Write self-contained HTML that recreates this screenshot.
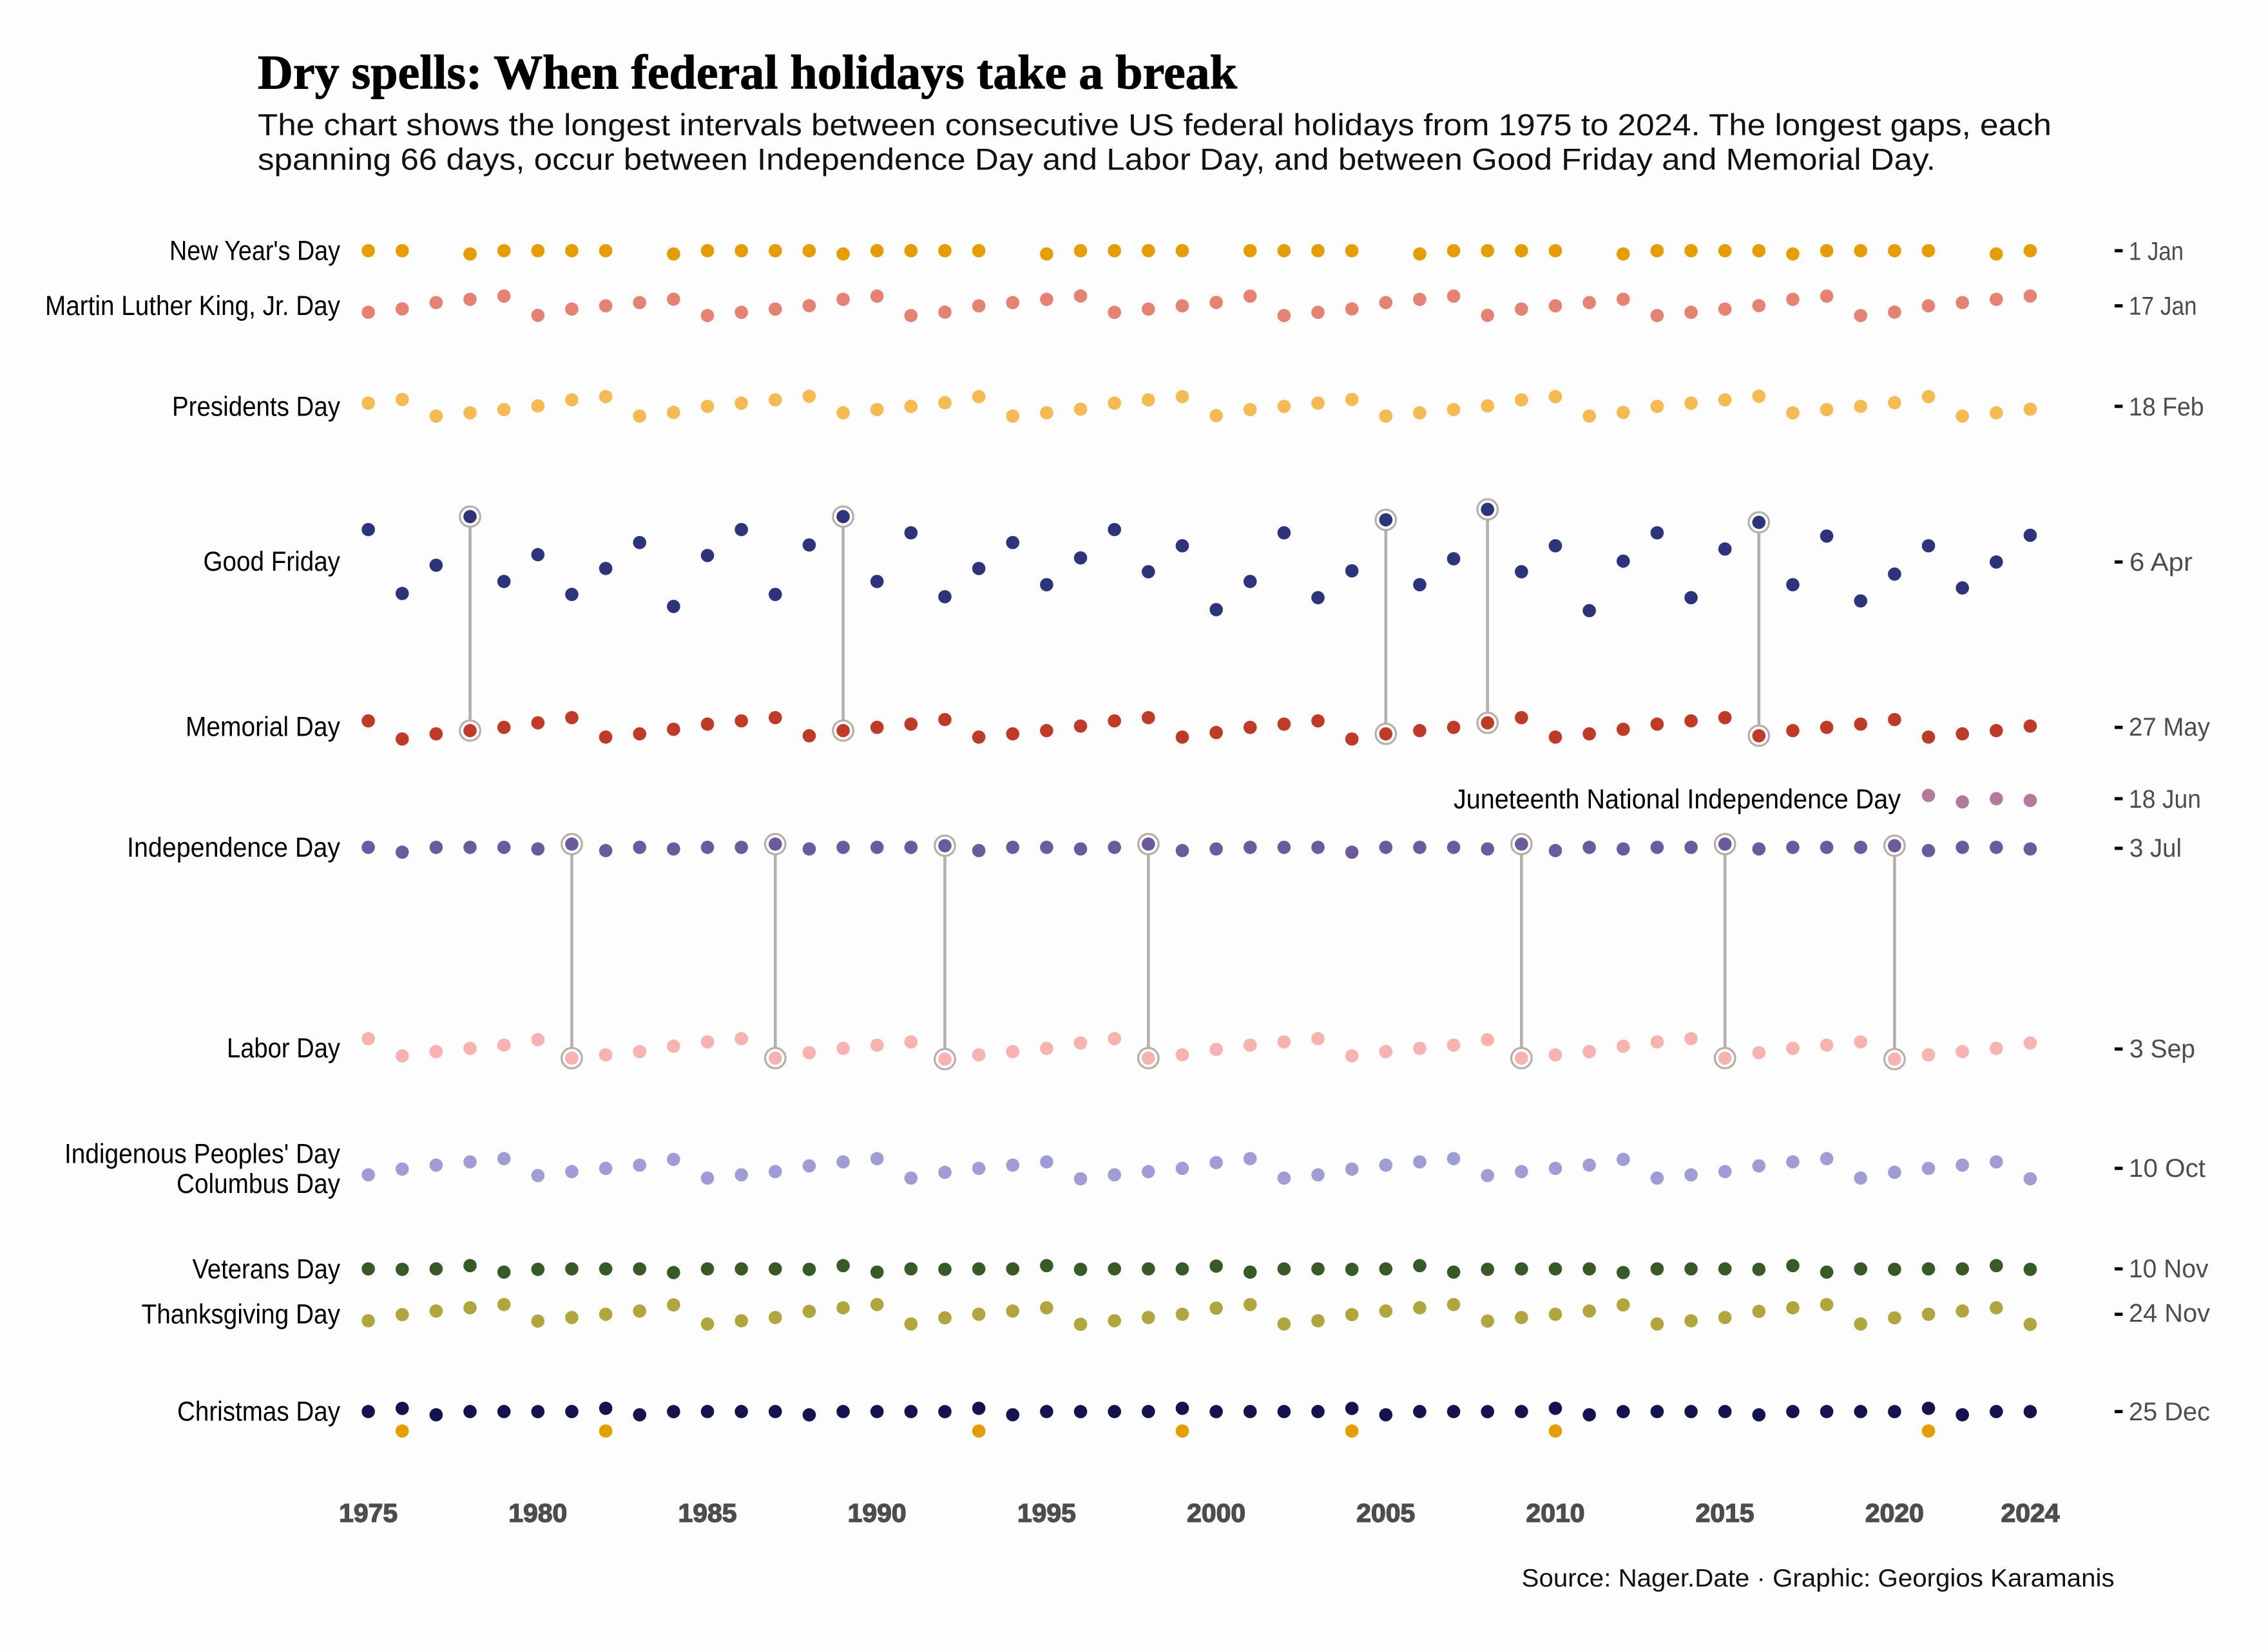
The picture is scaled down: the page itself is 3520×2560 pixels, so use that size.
<!DOCTYPE html>
<html lang="en">
<head>
<meta charset="utf-8">
<title>Dry spells: When federal holidays take a break</title>
<style>
html,body{margin:0;padding:0;background:#fdfdfd;}
svg{display:block;}
text{font-family:"Liberation Sans",sans-serif;}
.title{font-family:"Liberation Serif",serif;font-weight:700;font-size:75px;fill:#000;stroke:#000;stroke-width:1;}
.sub{font-size:47px;fill:#111;}
.lab{font-size:42.5px;fill:#000;}
.date{font-size:40px;fill:#4d4d4d;}
.year{font-size:40px;font-weight:700;fill:#4d4d4d;stroke:#4d4d4d;stroke-width:1.4;text-anchor:middle;}
.src{font-size:39px;fill:#111;}
</style>
</head>
<body>
<svg id="chart" xmlns="http://www.w3.org/2000/svg" width="3520" height="2560" viewBox="0 0 3520 2560">
<rect width="3520" height="2560" fill="#fdfdfd"/>
<text class="title" x="400" y="137.6" textLength="1520" lengthAdjust="spacingAndGlyphs">Dry spells: When federal holidays take a break</text>
<text class="sub" x="400" y="210" textLength="2784" lengthAdjust="spacingAndGlyphs">The chart shows the longest intervals between consecutive US federal holidays from 1975 to 2024. The longest gaps, each</text>
<text class="sub" x="400" y="263.3" textLength="2604" lengthAdjust="spacingAndGlyphs">spanning 66 days, occur between Independence Day and Labor Day, and between Good Friday and Memorial Day.</text>

<g>
<text class="lab" x="263" y="403.7" textLength="265" lengthAdjust="spacingAndGlyphs">New Year's Day</text>
<text class="lab" x="70" y="489" textLength="458" lengthAdjust="spacingAndGlyphs">Martin Luther King, Jr. Day</text>
<text class="lab" x="267" y="645.4" textLength="261" lengthAdjust="spacingAndGlyphs">Presidents Day</text>
<text class="lab" x="315.5" y="886" textLength="212.5" lengthAdjust="spacingAndGlyphs">Good Friday</text>
<text class="lab" x="288" y="1142.5" textLength="240" lengthAdjust="spacingAndGlyphs">Memorial Day</text>
<text class="lab" x="2256" y="1255" textLength="694" lengthAdjust="spacingAndGlyphs">Juneteenth National Independence Day</text>
<text class="lab" x="197" y="1330" textLength="331" lengthAdjust="spacingAndGlyphs">Independence Day</text>
<text class="lab" x="352" y="1641.5" textLength="176" lengthAdjust="spacingAndGlyphs">Labor Day</text>
<text class="lab" x="100" y="1805.5" textLength="428" lengthAdjust="spacingAndGlyphs">Indigenous Peoples' Day</text>
<text class="lab" x="274" y="1852.2" textLength="254" lengthAdjust="spacingAndGlyphs">Columbus Day</text>
<text class="lab" x="298.5" y="1984.5" textLength="229.5" lengthAdjust="spacingAndGlyphs">Veterans Day</text>
<text class="lab" x="219.5" y="2054.5" textLength="308.5" lengthAdjust="spacingAndGlyphs">Thanksgiving Day</text>
<text class="lab" x="275" y="2205.5" textLength="253" lengthAdjust="spacingAndGlyphs">Christmas Day</text>
</g>

<g>
<text class="date" x="3304" y="403.4" textLength="85" lengthAdjust="spacingAndGlyphs">1 Jan</text>
<text class="date" x="3304" y="488.7" textLength="105.6" lengthAdjust="spacingAndGlyphs">17 Jan</text>
<text class="date" x="3304" y="644.9" textLength="116.6" lengthAdjust="spacingAndGlyphs">18 Feb</text>
<text class="date" x="3305" y="886" textLength="98" lengthAdjust="spacingAndGlyphs">6 Apr</text>
<text class="date" x="3304" y="1142" textLength="126" lengthAdjust="spacingAndGlyphs">27 May</text>
<text class="date" x="3304" y="1254" textLength="112" lengthAdjust="spacingAndGlyphs">18 Jun</text>
<text class="date" x="3305" y="1330" textLength="81" lengthAdjust="spacingAndGlyphs">3 Jul</text>
<text class="date" x="3305" y="1641.6" textLength="102" lengthAdjust="spacingAndGlyphs">3 Sep</text>
<text class="date" x="3304" y="1827" textLength="119" lengthAdjust="spacingAndGlyphs">10 Oct</text>
<text class="date" x="3304" y="1983" textLength="123.5" lengthAdjust="spacingAndGlyphs">10 Nov</text>
<text class="date" x="3304" y="2052" textLength="126" lengthAdjust="spacingAndGlyphs">24 Nov</text>
<text class="date" x="3304" y="2205" textLength="126" lengthAdjust="spacingAndGlyphs">25 Dec</text>
</g>

<text class="src" x="2361.6" y="2463" textLength="920" lengthAdjust="spacingAndGlyphs">Source: Nager.Date · Graphic: Georgios Karamanis</text>

<g id="ticks"></g>
<g id="gaps"></g>
<g id="dots"></g>
</svg>

<script>
// Values are calendar dates written as day-of-year in a common (non-leap) calendar.
const years = [1975,1976,1977,1978,1979,1980,1981,1982,1983,1984,
1985,1986,1987,1988,1989,1990,1991,1992,1993,1994,
1995,1996,1997,1998,1999,2000,2001,2002,2003,2004,
2005,2006,2007,2008,2009,2010,2011,2012,2013,2014,
2015,2016,2017,2018,2019,2020,2021,2022,2023,2024];

const newYearDays = [1,1,null,2,1,1,1,1,null,2,
1,1,1,1,2,1,1,1,1,null,
2,1,1,1,1,null,1,1,1,1,
null,2,1,1,1,1,null,2,1,1,
1,1,2,1,1,1,1,null,2,1];

const newYearObservedYears = [1976,1982,1993,1999,2004,2010,2021];
const newYearObservedDays = [365,365,365,365,365,365,365];

const mlkDays = [20,19,17,16,15,21,19,18,17,16,
21,20,19,18,16,15,21,20,18,17,
16,15,20,19,18,17,15,21,20,19,
17,16,15,21,19,18,17,16,21,20,
19,18,16,15,21,20,18,17,16,15];

const presidentsDays = [48,47,52,51,50,49,47,46,52,51,
49,48,47,46,51,50,49,48,46,52,
51,50,48,47,46,52,50,49,48,47,
52,51,50,49,47,46,52,51,49,48,
47,46,51,50,49,48,46,52,51,50];

const goodFridayDays = [87,106,98,83,103,94,107,99,91,110,
95,87,107,91,83,103,88,107,99,91,
104,95,87,100,92,111,103,88,108,99,
84,104,96,80,100,92,112,96,88,108,
93,84,104,89,109,100,92,105,97,88];

const memorialDays = [146,151,150,149,148,146,145,151,150,148,
147,146,145,150,149,148,147,145,151,150,
149,147,146,145,151,149,148,147,146,151,
150,149,148,146,145,151,150,148,147,146,
145,150,149,148,147,145,151,150,149,147];

const juneteenthYears = [2021,2022,2023,2024];
const juneteenthDays = [169,171,170,170];

const independenceDays = [185,186,185,185,185,185,184,186,185,185,
185,185,184,185,185,185,185,184,186,185,
185,185,185,184,186,185,185,185,185,186,
185,185,185,185,184,186,185,185,185,185,
184,185,185,185,185,184,186,185,185,185];

const laborDays = [244,249,248,247,246,244,250,249,248,246,
245,244,250,248,247,246,245,250,249,248,
247,245,244,250,249,247,246,245,244,249,
248,247,246,244,250,249,248,246,245,244,
250,248,247,246,245,250,249,248,247,245];

const columbusDays = [286,284,283,282,281,286,285,284,283,281,
287,286,285,283,282,281,287,285,284,283,
282,287,286,285,284,282,281,287,286,284,
283,282,281,286,285,284,283,281,287,286,
285,283,282,281,287,285,284,283,282,287];

const veteransDays = [315,315,315,314,316,315,315,315,315,316,
315,315,315,315,314,316,315,315,315,315,
314,315,315,315,315,314,316,315,315,315,
315,314,316,315,315,315,315,316,315,315,
315,315,314,316,315,315,315,315,314,315];

const thanksgivingDays = [331,329,328,327,326,331,330,329,328,326,
332,331,330,328,327,326,332,330,329,328,
327,332,331,330,329,327,326,332,331,329,
328,327,326,331,330,329,328,326,332,331,
330,328,327,326,332,330,329,328,327,332];

const christmasDays = [359,358,360,359,359,359,359,358,360,359,
359,359,359,360,359,359,359,359,358,360,
359,359,359,359,358,359,359,359,359,358,
360,359,359,359,359,358,360,359,359,359,
359,360,359,359,359,359,358,360,359,359];

const springGapYears = [1978,1989,2005,2008,2016];
const summerGapYears = [1981,1987,1992,1998,2009,2015,2020];

const yearTicks = [1975,1980,1985,1990,1995,2000,2005,2010,2015,2020,2024];
const dateTickDays = [1,18,49,97,148,170,185.3,247.2,284,315,329,359];

// Axis functions
function xScale(year){ return 571.6 + (year - 1975) * 52.64; }
function yScale(day, year){
  const leap = year % 4 === 0;
  const actual = (leap && day > 59) ? day + 1 : day;
  return 389.2 + ((actual - 1) / (leap ? 366 : 365)) * 1837.4;
}
function tickY(day){ return 389.2 + ((day - 1) / 365) * 1837.4; }

const NS = 'http://www.w3.org/2000/svg';
const dotLayer = document.getElementById('dots');
const gapLayer = document.getElementById('gaps');
const tickLayer = document.getElementById('ticks');
const RING = '#b6aeaa';
const BG = '#fdfdfd';

function addDot(year, day, color, slug){
  const c = document.createElementNS(NS, 'circle');
  c.setAttribute('cx', xScale(year));
  c.setAttribute('cy', yScale(day, year));
  c.setAttribute('r', 10.3);
  c.setAttribute('fill', color);
  
  
  dotLayer.appendChild(c);
}
function addSeries(yrs, days, color, slug){
  days.forEach(function(d, i){
    if (d !== null) addDot(yrs[i], d, color, slug);
  });
}
function addRing(year, day){
  const c = document.createElementNS(NS, 'circle');
  c.setAttribute('cx', xScale(year));
  c.setAttribute('cy', yScale(day, year));
  c.setAttribute('r', 15.8);
  c.setAttribute('fill', BG);
  c.setAttribute('stroke', RING);
  c.setAttribute('stroke-width', 3.2);
  
  
  gapLayer.appendChild(c);
}
function addGap(year, startDays, endDays){
  const i = years.indexOf(year);
  const l = document.createElementNS(NS, 'line');
  l.setAttribute('x1', xScale(year));
  l.setAttribute('x2', xScale(year));
  l.setAttribute('y1', yScale(startDays[i], year));
  l.setAttribute('y2', yScale(endDays[i], year));
  l.setAttribute('stroke', RING);
  l.setAttribute('stroke-width', 4.6);
  
  
  gapLayer.appendChild(l);
  addRing(year, startDays[i]);
  addRing(year, endDays[i]);
}

springGapYears.forEach(function(y){ addGap(y, goodFridayDays, memorialDays); });
summerGapYears.forEach(function(y){ addGap(y, independenceDays, laborDays); });

addSeries(years, newYearDays, '#e69d00', 'new-years-day');
addSeries(newYearObservedYears, newYearObservedDays, '#e69d00', 'new-years-day-observed');
addSeries(years, mlkDays, '#e58274', 'mlk-day');
addSeries(years, presidentsDays, '#f6ba52', 'presidents-day');
addSeries(years, goodFridayDays, '#2d347c', 'good-friday');
addSeries(years, memorialDays, '#c03a28', 'memorial-day');
addSeries(juneteenthYears, juneteenthDays, '#b27a9b', 'juneteenth');
addSeries(years, independenceDays, '#6b5b9e', 'independence-day');
addSeries(years, laborDays, '#f8b2b0', 'labor-day');
addSeries(years, columbusDays, '#a09dd6', 'columbus-day');
addSeries(years, veteransDays, '#375a27', 'veterans-day');
addSeries(years, thanksgivingDays, '#b1a63e', 'thanksgiving-day');
addSeries(years, christmasDays, '#15134f', 'christmas-day');

dateTickDays.forEach(function(d, i){
  const t = document.createElementNS(NS, 'line');
  t.setAttribute('x1', 3282);
  t.setAttribute('x2', 3294.5);
  t.setAttribute('y1', tickY(d));
  t.setAttribute('y2', tickY(d));
  t.setAttribute('stroke', '#000');
  t.setAttribute('stroke-width', 5);
  
  
  tickLayer.appendChild(t);
});

yearTicks.forEach(function(y){
  const t = document.createElementNS(NS, 'text');
  t.setAttribute('class', 'year');
  t.setAttribute('x', xScale(y));
  t.setAttribute('y', 2362.7);
  t.setAttribute('textLength', 91);
  t.setAttribute('lengthAdjust', 'spacingAndGlyphs');
  
  
  t.textContent = String(y);
  tickLayer.appendChild(t);
});
</script>
</body>
</html>
